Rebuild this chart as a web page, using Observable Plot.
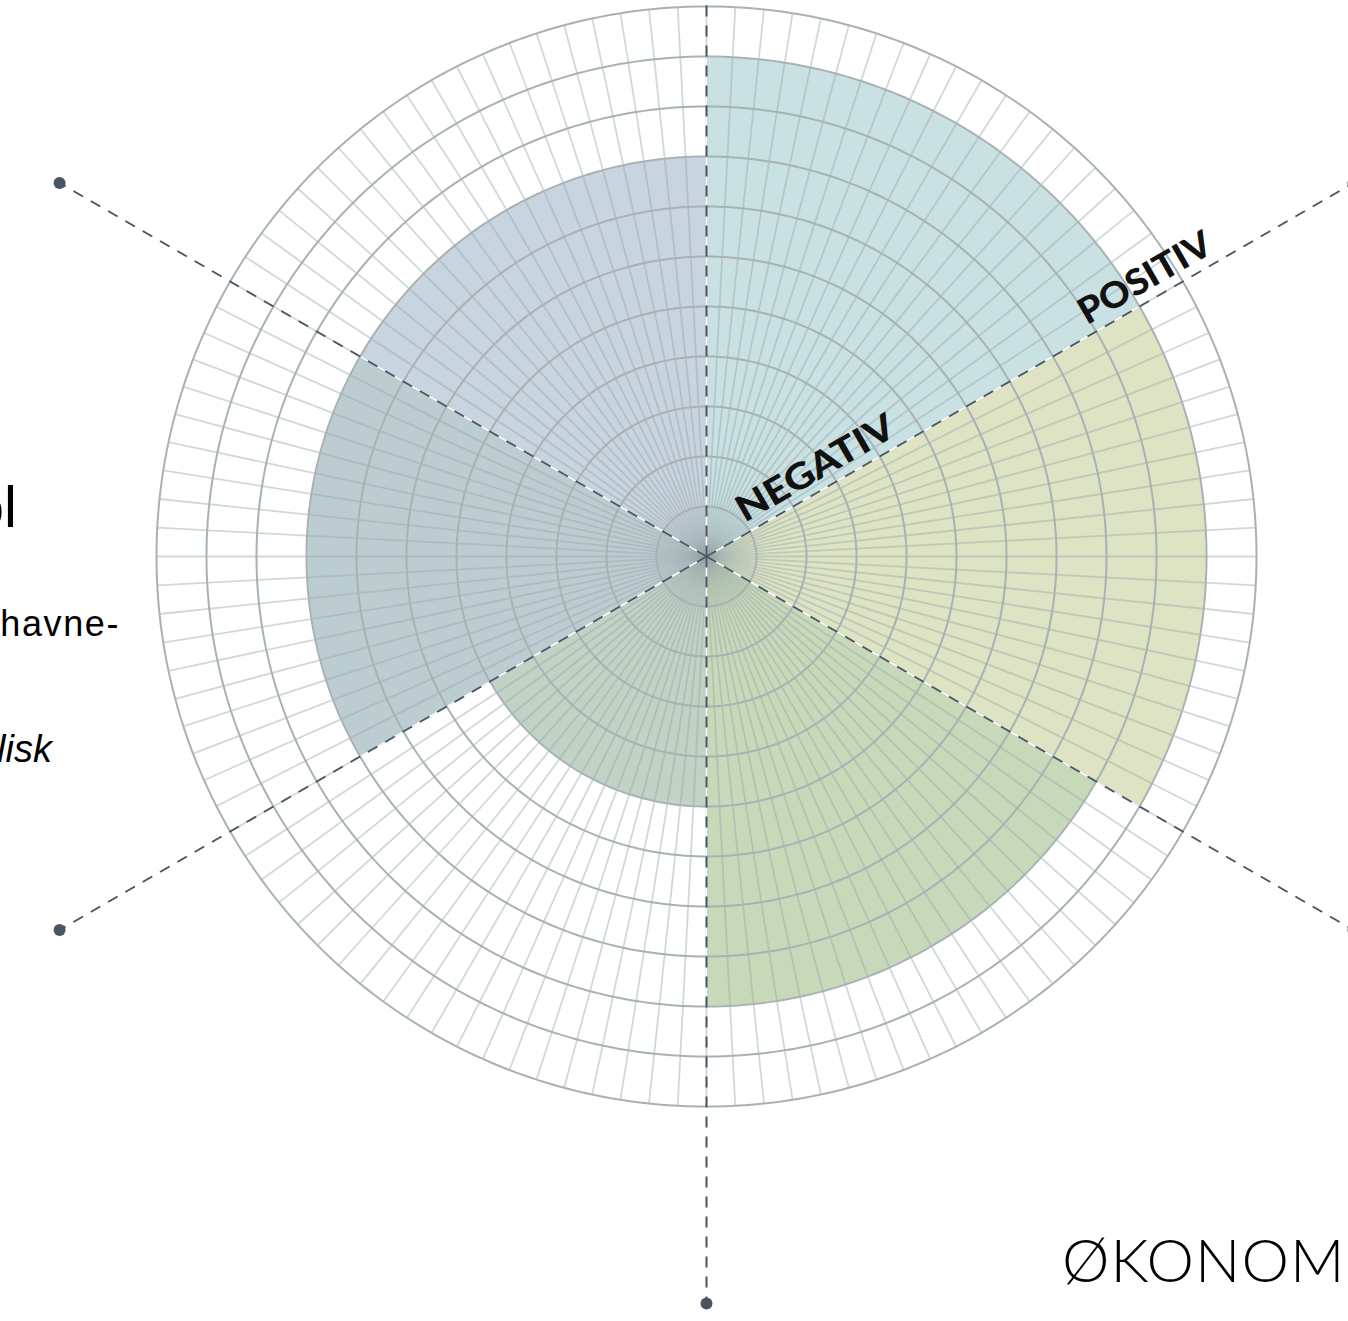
<!DOCTYPE html>
<html><head><meta charset="utf-8">
<script src="https://cdn.jsdelivr.net/npm/d3@7"></script>
<script src="https://cdn.jsdelivr.net/npm/@observablehq/plot@0.6"></script>
<style>
html,body{margin:0;padding:0;background:#fff;overflow:hidden;}
#wrap{position:relative;width:1348px;height:1321px;overflow:hidden;}
#wrap svg{position:absolute;left:0;top:0;}
.t{position:absolute;white-space:nowrap;line-height:1;color:#000;}
</style></head><body><div id="wrap"></div>
<script>
// ---- data ----
const sectorNames = ["Sektor 1", "Sektor 2", "Sektor 3", "Sektor 4", "Sektor 5", "Sektor 6"];
const sectorValues = [10, 10, 9, 5, 8, 8];          // radius in ring units
const sectorColors = ["#c9e1e3", "#dde3c3", "#c7d9b8", "#c0d3c5", "#bccdd2", "#c8d4df"];
const ringRadii = [1, 2, 3, 4, 5, 6, 7, 8, 9, 10, 11];
const spokeStepDeg = 3;
const dividerAngles = [0, 60, 120, 180, 240, 300];
const dividerLength = 14.94;
const scaleLabels = [
  {text: "NEGATIV", along: 2.77},
  {text: "POSITIV", along: 10.38}
];
const labelAxisDeg = 60;

// ---- helpers ----
const rad = d => d * Math.PI / 180;
const px = (r, deg) => r * Math.sin(rad(deg));
const py = (r, deg) => r * Math.cos(rad(deg));
const outer = ringRadii[ringRadii.length - 1];
const span = 360 / sectorNames.length;

const wedgePts = [];
const wedgeOutline = [];
sectorNames.forEach((s, i) => {
  const v = sectorValues[i];
  wedgeOutline.push({sector: s, x: 0, y: 0});
  for (let a = i * span; a <= (i + 1) * span + 1e-9; a += 1) {
    wedgePts.push({sector: s, x1: px(v, a), y1: py(v, a), x2: 0, y2: 0});
    wedgeOutline.push({sector: s, x: px(v, a), y: py(v, a)});
  }
  wedgeOutline.push({sector: s, x: 0, y: 0});
});

const ringPts = [];
ringRadii.forEach(r => {
  for (let a = 0; a <= 360; a += 1) ringPts.push({ring: r, x: px(r, a), y: py(r, a)});
});

const spokes = d3.range(0, 360, spokeStepDeg).map(a => ({x0: 0, y0: 0, x: px(outer, a), y: py(outer, a)}));
const dividers = dividerAngles.map(a => ({x0: 0, y0: 0, x: px(dividerLength, a), y: py(dividerLength, a)}));

const perp = 0.43;
const lx = d => px(d.along, labelAxisDeg) - perp * Math.cos(rad(labelAxisDeg));
const ly = d => py(d.along, labelAxisDeg) + perp * Math.sin(rad(labelAxisDeg));

const dash = "#4a5562";

const chart = Plot.plot({
  width: 1348,
  height: 1321,
  margin: 0,
  x: {domain: [-14.12, 12.84], axis: null},
  y: {domain: [-15.3, 11.12], axis: null},
  color: {domain: sectorNames, range: sectorColors},
  marks: [
    Plot.area(wedgePts, {x1: "x1", y1: "y1", x2: "x2", y2: "y2", z: "sector", fill: "sector", curve: "linear"}),
    Plot.link(spokes, {x1: "x0", y1: "y0", x2: "x", y2: "y", stroke: "#9aa8ab", strokeOpacity: 0.45, strokeWidth: 1.8}),
    Plot.line(wedgeOutline, {x: "x", y: "y", z: "sector", stroke: "#ffffff", strokeWidth: 1.3, strokeOpacity: 0.9, curve: "linear"}),
    Plot.line(ringPts, {x: "x", y: "y", z: "ring", stroke: "#a8b2b4", strokeWidth: 2, curve: "linear"}),
    Plot.link(dividers, {x1: "x0", y1: "y0", x2: "x", y2: "y", stroke: dash, strokeWidth: 2, strokeDasharray: "11,9"}),
    Plot.dot(dividers, {x: "x", y: "y", r: 6, fill: dash, stroke: null}),
    Plot.text(scaleLabels, {x: lx, y: ly, text: "text", rotate: -30, fontSize: 36, fontWeight: 900,
      fontFamily: "Lato, 'DejaVu Sans', sans-serif", fill: "#111", textAnchor: "middle", lineAnchor: "middle"})
  ]
});

const wrap = document.getElementById("wrap");
wrap.appendChild(chart);

const lengths = {NEGATIV: 177, POSITIV: 148};
chart.querySelectorAll("text").forEach(t => {
  const k = t.textContent.trim();
  if (lengths[k]) { t.setAttribute("textLength", lengths[k]); t.setAttribute("lengthAdjust", "spacingAndGlyphs"); }
});

function addText(txt, css) {
  const d = document.createElement("div");
  d.className = "t";
  d.textContent = txt;
  Object.assign(d.style, css);
  wrap.appendChild(d);
}
addText("Kontrol", {left: "-500px", width: "517px", textAlign: "right", top: "478px", fontSize: "58px", fontFamily: "'Liberation Sans', Arial, sans-serif"});
addText("Flyve- og havne-", {left: "-500px", width: "620px", textAlign: "right", top: "606px", fontSize: "36px", letterSpacing: "1.6px", fontFamily: "'Liberation Sans', Arial, sans-serif"});
addText("symbolisk", {left: "-500px", width: "552px", textAlign: "right", top: "730px", fontSize: "38px", fontStyle: "italic", fontFamily: "'Liberation Sans', Arial, sans-serif"});
addText("ØKONOMI", {left: "1062px", top: "1229px", fontSize: "60px", fontWeight: "300", letterSpacing: "1px", fontFamily: "Lato, 'DejaVu Sans', sans-serif"});
</script></body></html>
